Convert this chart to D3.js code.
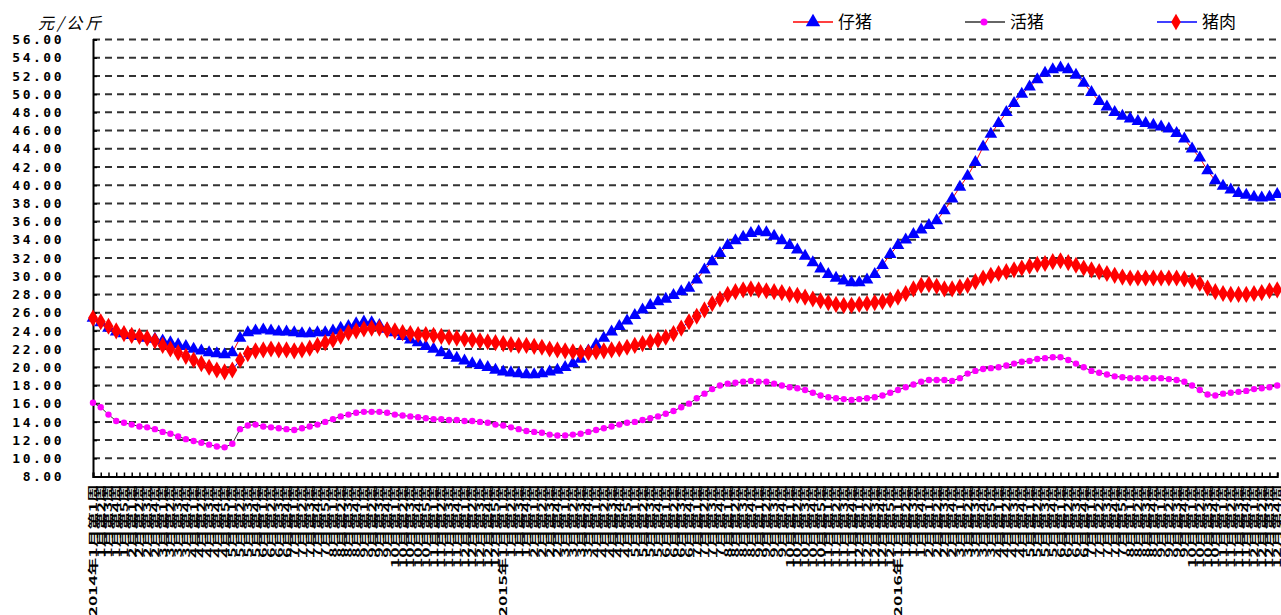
<!DOCTYPE html>
<html>
<head>
<meta charset="utf-8">
<script src="https://cdn.jsdelivr.net/npm/d3@7"></script>
<style>
  body { margin: 0; background: #fff; }
  svg { display: block; }
</style>
</head>
<body>
<svg id="chart" width="1281" height="615"></svg>
<script>
// weeks per month, one list per year
const years = [2014, 2015, 2016];
const weeksPerMonth2014 = [5, 4, 4, 5, 4, 4, 5, 4, 4, 5, 4, 5];
const weeksPerMonth2015 = [4, 4, 4, 5, 4, 4, 4, 4, 4, 5, 4, 5];
const weeksPerMonth2016 = [4, 4, 5, 4, 4, 4, 5, 4, 4, 4, 4, 4];

const seriesNames = ["仔猪", "活猪", "猪肉"];
const yTicks = [8, 10, 12, 14, 16, 18, 20, 22, 24, 26, 28, 30, 32, 34, 36, 38, 40, 42, 44, 46, 48, 50, 52, 54, 56];

// 仔猪 (piglet), 元/公斤
const piglet = [
  25.4, 24.9, 24.3, 23.9, 23.7, 23.5, 23.4, 23.2, 23.1, 22.9, 22.7, 22.5, 22.3, 22.0, 21.8, 21.6, 21.5, 21.4, 21.6, 23.2,
  23.8, 24.0, 24.1, 24.0, 23.9, 23.9, 23.8, 23.7, 23.7, 23.8, 23.8, 24.0, 24.3, 24.5, 24.8, 25.0, 24.9, 24.6, 24.2, 23.8,
  23.4, 23.0, 22.7, 22.3, 22.0, 21.6, 21.3, 21.0, 20.7, 20.4, 20.2, 20.0, 19.7, 19.5, 19.4, 19.3, 19.2, 19.2, 19.3, 19.5,
  19.7, 20.0, 20.4, 20.9, 21.8, 22.5, 23.2, 23.9, 24.5, 25.1, 25.7, 26.3, 26.8, 27.2, 27.5, 27.9, 28.3, 28.7, 29.6, 30.7,
  31.6, 32.5, 33.4, 33.9, 34.3, 34.7, 34.9, 34.8, 34.4, 33.9, 33.4, 32.9, 32.2, 31.5, 30.8, 30.2, 29.8, 29.5, 29.3, 29.3,
  29.6, 30.2, 31.2, 32.4, 33.4, 34.0, 34.6, 35.1, 35.6, 36.1, 37.2, 38.5, 39.8, 41.0, 42.5, 44.2, 45.6, 46.8, 48.0, 49.0,
  50.0, 50.8, 51.6, 52.3, 52.7, 52.9, 52.7, 52.1, 51.2, 50.2, 49.2, 48.6, 48.0, 47.6, 47.3, 47.0, 46.8, 46.6, 46.4, 46.2,
  45.7, 45.1, 44.0, 43.0, 41.6, 40.5, 39.9, 39.5, 39.1, 38.9, 38.7, 38.6, 38.7, 39.0
];

// 活猪 (live hog)
const liveHog = [
  16.1, 15.6, 14.8, 14.1, 13.9, 13.7, 13.5, 13.4, 13.2, 12.9, 12.7, 12.4, 12.1, 11.9, 11.7, 11.5, 11.3, 11.2, 11.6, 13.2,
  13.6, 13.7, 13.5, 13.4, 13.3, 13.2, 13.1, 13.3, 13.5, 13.7, 14.0, 14.3, 14.6, 14.8, 15.0, 15.1, 15.1, 15.1, 15.0, 14.8,
  14.7, 14.6, 14.5, 14.4, 14.3, 14.3, 14.2, 14.2, 14.1, 14.1, 14.0, 13.9, 13.7, 13.6, 13.4, 13.2, 13.0, 12.9, 12.8, 12.6,
  12.5, 12.5, 12.6, 12.7, 12.9, 13.1, 13.3, 13.5, 13.7, 13.9, 14.0, 14.2, 14.4, 14.6, 14.9, 15.2, 15.6, 16.0, 16.6, 17.1,
  17.6, 18.0, 18.2, 18.3, 18.4, 18.5, 18.4, 18.4, 18.2, 18.0, 17.8, 17.7, 17.5, 17.2, 16.9, 16.7, 16.6, 16.5, 16.4, 16.5,
  16.6, 16.7, 16.9, 17.2, 17.5, 17.8, 18.1, 18.4, 18.6, 18.6, 18.6, 18.5, 18.8, 19.3, 19.6, 19.8, 19.9, 20.0, 20.2, 20.4,
  20.6, 20.7, 20.9, 21.0, 21.1, 21.1, 20.8, 20.4, 20.0, 19.6, 19.4, 19.2, 19.0, 18.9, 18.8, 18.8, 18.8, 18.8, 18.8, 18.7,
  18.6, 18.4, 18.0, 17.5, 17.0, 16.9, 17.1, 17.2, 17.3, 17.4, 17.6, 17.7, 17.8, 18.0
];

// 猪肉 (pork)
const pork = [
  25.4, 25.0, 24.5, 24.0, 23.7, 23.5, 23.4, 23.2, 22.9, 22.4, 22.0, 21.6, 21.2, 20.8, 20.4, 20.0, 19.7, 19.5, 19.7, 20.8,
  21.5, 21.8, 21.9, 22.0, 21.9, 21.9, 21.8, 21.9, 22.1, 22.4, 22.7, 23.0, 23.4, 23.8, 24.0, 24.2, 24.3, 24.3, 24.1, 24.0,
  23.8, 23.7, 23.6, 23.6, 23.5, 23.4, 23.3, 23.2, 23.1, 23.0, 22.9, 22.8, 22.7, 22.6, 22.5, 22.4, 22.4, 22.3, 22.2, 22.0,
  21.9, 21.8, 21.7, 21.6, 21.6, 21.7, 21.8, 21.9, 22.0, 22.2, 22.4, 22.6, 22.8, 23.0, 23.3, 23.7, 24.3, 25.0, 25.6, 26.3,
  27.0, 27.5, 28.0, 28.3, 28.5, 28.6, 28.5, 28.4, 28.3, 28.2, 28.0, 27.9, 27.7, 27.5, 27.3, 27.1, 26.9, 26.8, 26.8, 26.9,
  27.0, 27.1, 27.2, 27.4, 27.7, 28.1, 28.6, 29.0, 29.1, 28.9, 28.6, 28.6, 28.8, 29.0, 29.4, 29.8, 30.1, 30.3, 30.5, 30.7,
  30.9, 31.1, 31.3, 31.4, 31.6, 31.7, 31.5, 31.2, 30.9, 30.7, 30.5, 30.3, 30.1, 29.9, 29.8, 29.8, 29.8, 29.8, 29.8, 29.8,
  29.8, 29.7, 29.5, 29.2, 28.7, 28.3, 28.1, 28.0, 28.0, 28.0, 28.1, 28.2, 28.4, 28.5
];

// build week labels like "2014年1月第1周"
const weekLabels = [];
[weeksPerMonth2014, weeksPerMonth2015, weeksPerMonth2016].forEach((wpm, yi) => {
  wpm.forEach((n, m) => {
    for (let w = 1; w <= n; w++) {
      const first = m === 0 && w === 1;
      weekLabels.push((first ? years[yi] + "年" : "") + (m + 1) + "月第" + w + "周");
    }
  });
});

const svg = d3.select("#chart");
const plotLeft = 93, plotRight = 1281, plotTop = 39.5, plotBottom = 476.5;
const step = 7.74;

const x = d3.scalePoint()
  .domain(d3.range(weekLabels.length))
  .range([plotLeft, plotLeft + (weekLabels.length - 1) * step]);

const y = d3.scaleLinear().domain([8, 56]).range([plotBottom, plotTop]);

// dashed grid
svg.append("g")
  .selectAll("line")
  .data(yTicks.filter(d => d > 8))
  .enter().append("line")
  .attr("x1", plotLeft).attr("x2", plotRight)
  .attr("y1", d => y(d)).attr("y2", d => y(d))
  .attr("stroke", "#333")
  .attr("stroke-width", 2)
  .attr("stroke-dasharray", "7,5");

// y axis
const yAxis = svg.append("g")
  .attr("transform", `translate(${plotLeft},0)`)
  .call(d3.axisLeft(y).tickValues(yTicks).tickSize(-4).tickPadding(29).tickFormat(d3.format(".2f")));
yAxis.select(".domain").attr("stroke", "#000").attr("stroke-width", 2);
yAxis.selectAll(".tick line").attr("stroke", "#000").attr("stroke-width", 1.5);
yAxis.selectAll("text")
  .attr("fill", "#000")
  .style("font-family", "DejaVu Sans Mono, monospace")
  .style("font-size", "13px")
  .style("font-weight", "bold")
  .style("letter-spacing", "2.5px");

// x axis
const xAxis = svg.append("g")
  .attr("transform", `translate(0,${plotBottom})`)
  .call(d3.axisBottom(x).tickSize(-4).tickFormat(i => weekLabels[i]));
xAxis.select(".domain").attr("stroke", "#000").attr("stroke-width", 2);
xAxis.selectAll(".tick line").attr("stroke", "#000").attr("stroke-width", 1.5);
xAxis.selectAll("text")
  .attr("x", 0).attr("y", 0).attr("dy", "0.35em")
  .attr("transform", "translate(0,8) rotate(-90) scale(1.75,1)")
  .style("text-anchor", "end")
  .attr("fill", "#000")
  .style("font-family", "Noto Sans CJK SC, sans-serif")
  .style("font-size", "10px")
  .style("font-weight", "bold");

// unit
svg.append("text")
  .attr("x", 38).attr("y", 29)
  .style("font-family", "Noto Sans CJK SC, sans-serif")
  .style("font-size", "16px")
  .style("font-style", "italic")
  .style("letter-spacing", "3px")
  .text("元/公斤");

const idx = d3.range(weekLabels.length);
const triangle = d3.symbol().type(d3.symbolTriangle).size(70);
const diamond = d3.symbol().type(d3.symbolDiamond).size(85);

function drawSeries(values, lineColor, draw) {
  const line = d3.line().x(i => x(i)).y(i => y(values[i]));
  svg.append("path")
    .datum(idx)
    .attr("d", line)
    .attr("fill", "none")
    .attr("stroke", lineColor)
    .attr("stroke-width", 1);
  draw(svg.append("g").selectAll("g").data(idx).enter(), values);
}

// 仔猪: red line, blue triangles
drawSeries(piglet, "red", (sel, v) => sel.append("path")
  .attr("d", triangle)
  .attr("transform", i => `translate(${x(i)},${y(v[i])})`)
  .attr("fill", "#0000ff"));

// 活猪: dark line, magenta dots
drawSeries(liveHog, "#333", (sel, v) => sel.append("circle")
  .attr("cx", i => x(i)).attr("cy", i => y(v[i]))
  .attr("r", 3.2)
  .attr("fill", "#ff00ff"));

// 猪肉: blue line, red diamonds
drawSeries(pork, "#0000ff", (sel, v) => sel.append("path")
  .attr("d", diamond)
  .attr("transform", i => `translate(${x(i)},${y(v[i])})`)
  .attr("fill", "#ff0000"));

// legend
const legendItems = [
  { name: seriesNames[0], x0: 793, line: "red", marker: "tri" },
  { name: seriesNames[1], x0: 965, line: "#333", marker: "dot" },
  { name: seriesNames[2], x0: 1157, line: "#0000ff", marker: "dia" }
];
const ly = 22;
legendItems.forEach(it => {
  const g = svg.append("g");
  g.append("line").attr("x1", it.x0).attr("x2", it.x0 + 40)
    .attr("y1", ly).attr("y2", ly).attr("stroke", it.line).attr("stroke-width", 1.5);
  if (it.marker === "tri") {
    g.append("path").attr("d", d3.symbol().type(d3.symbolTriangle).size(90))
      .attr("transform", `translate(${it.x0 + 20},${ly})`).attr("fill", "#0000ff");
  } else if (it.marker === "dot") {
    g.append("circle").attr("cx", it.x0 + 19).attr("cy", ly).attr("r", 3.5).attr("fill", "#ff00ff");
  } else {
    g.append("path").attr("d", d3.symbol().type(d3.symbolDiamond).size(80))
      .attr("transform", `translate(${it.x0 + 19},${ly})`).attr("fill", "#ff0000");
  }
  g.append("text")
    .attr("x", it.x0 + 45).attr("y", ly + 6)
    .style("font-family", "Noto Sans CJK SC, sans-serif")
    .style("font-size", "17px")
    .text(it.name);
});
</script>
</body>
</html>
